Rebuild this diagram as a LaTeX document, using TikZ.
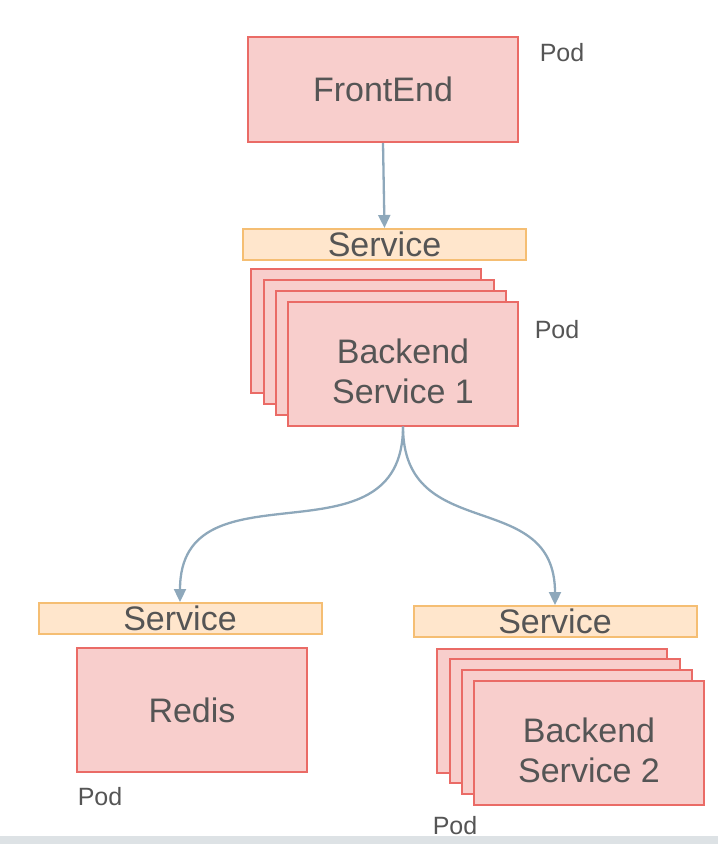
\documentclass[tikz,border=0pt]{standalone}
\usepackage{fontspec}
\setmainfont{Liberation Sans}
\usetikzlibrary{positioning,arrows.meta}
\definecolor{podfill}{HTML}{F8CECC}
\definecolor{podline}{HTML}{EA6B66}
\definecolor{svcfill}{HTML}{FFE6CC}
\definecolor{svcline}{HTML}{F5BE73}
\definecolor{linkcol}{HTML}{8EA8BB}
\definecolor{txtcol}{HTML}{555555}
\definecolor{barcol}{HTML}{DDE2E5}
\tikzset{
	podbox/.style={draw=podline,fill=podfill,line width=2pt,minimum width=230pt,minimum height=124pt,
		inner sep=0pt,align=center,text=txtcol,font=\fontsize{34}{40}\selectfont},
	svcbar/.style={draw=svcline,fill=svcfill,line width=2pt,minimum width=283pt,minimum height=31pt,
		inner sep=0pt,text=txtcol,font=\fontsize{34}{34}\selectfont},
	podtag/.style={text=txtcol,inner sep=0pt,font=\fontsize{25}{25}\selectfont},
	link/.style={draw=linkcol,line width=2.3pt,-{Triangle[length=13pt,width=12pt]}}
}

\begin{document}
\begin{tikzpicture}[x=1pt,y=-1pt]
		\useasboundingbox (0,0) rectangle (718,844);
		\fill[barcol] (0,836) rectangle (718,844);
		% front end
		\node[podbox,minimum width=270pt,minimum height=105pt] (fe) at (383,89.5) {FrontEnd};
		\node[podtag] (fetag) at (562,53) {Pod};
		\node[svcbar] (svcb) at (384.5,244.5) {Service};
		% backend service 1, stacked replicas
		\foreach \k in {3,2,1}
			\node[podbox] (bsa-\k) at ({403-12.2*\k},{363.5-10.8*\k}) {};
		\node[podbox,text height=80pt] (bsa) at (403,363.5) {Backend\\Service 1};
		\node[podtag] (bsatag) at (557,330) {Pod};
		% redis
		\node[svcbar] (svcr) at (180,618.5) {Service};
		\node[podbox] (redis) at (192,710) {Redis};
		\node[podtag] (redistag) at (100,797) {Pod};
		% backend service 2, stacked replicas
		\node[svcbar] (svcc) at (555,621.5) {Service};
		\foreach \k in {3,2,1}
			\node[podbox] (bsb-\k) at ({589-12.2*\k},{743-10.8*\k}) {};
		\node[podbox,text height=80pt] (bsb) at (589,743) {Backend\\Service 2};
		\node[podtag] (bsbtag) at (455,826) {Pod};
		% links
		\draw[link] (fe.south) -- (svcb.north);
		\draw[link] (bsa.south) to[out=-90,in=90,looseness=1.3] (svcr.north);
		\draw[link] (bsa.south) to[out=-90,in=90,looseness=1.3] (svcc.north);
	\end{tikzpicture}
\end{document}
